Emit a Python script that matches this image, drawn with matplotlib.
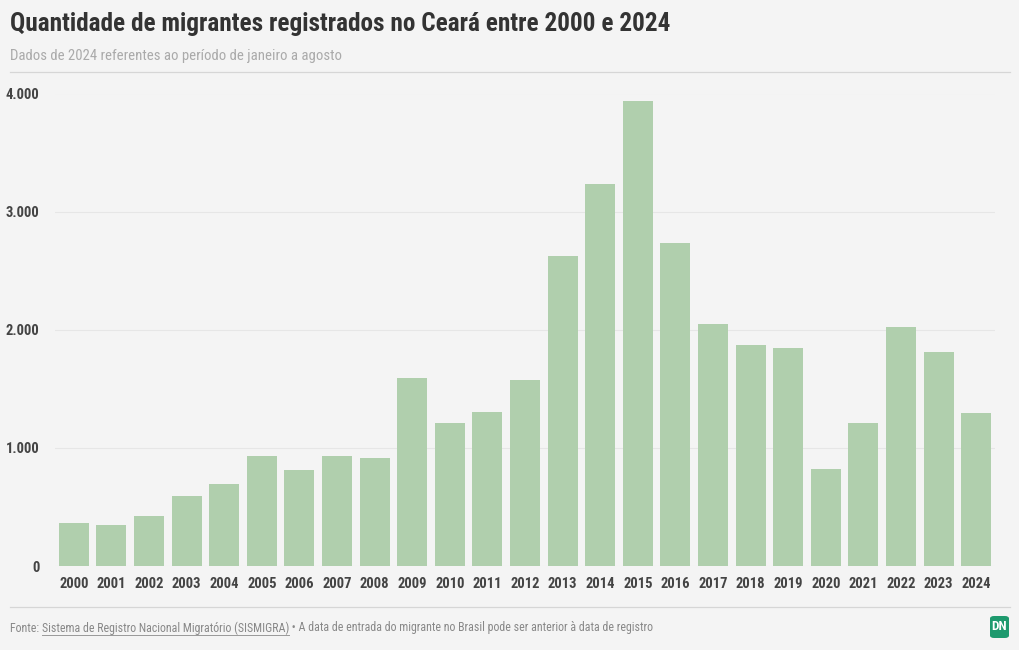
#!/usr/bin/env python3
# Migrantes registrados no Ceará, 2000-2024 (bar chart)

import matplotlib.pyplot as plt
from matplotlib.patches import FancyBboxPatch
from matplotlib.lines import Line2D

# Data
years = [str(y) for y in range(2000, 2025)]
migrants = [364, 345, 421, 590, 698, 932, 811, 932, 918, 1593,
            1212, 1303, 1574, 2623, 3232, 3934, 2735, 2047, 1875, 1847,
            822, 1214, 2020, 1814, 1294]
yticks = [0, 1000, 2000, 3000, 4000]
ytick_labels = ['0', '1.000', '2.000', '3.000', '4.000']

title = 'Quantidade de migrantes registrados no Ceará entre 2000 e 2024'
subtitle = 'Dados de 2024 referentes ao período de janeiro a agosto'
foot_a = 'Fonte: '
foot_b = 'Sistema de Registro Nacional Migratório (SISMIGRA)'
foot_c = ' • A data de entrada do migrante no Brasil pode ser anterior à data de registro'

bg = '#f4f4f4'
bar_color = '#b0cfad'

plt.rcParams['font.family'] = ['Roboto Condensed', 'Liberation Sans Narrow', 'Roboto', 'DejaVu Sans']

fig = plt.figure(figsize=(10.2, 6.5), dpi=100, facecolor=bg)
W, H = 1020, 650

ax = fig.add_axes([55 / W, 1 - 566 / H, 940 / W, (566 - 93.5) / H])
ax.set_facecolor(bg)
ax.bar(range(len(years)), migrants, width=0.8, color=bar_color, zorder=2)
ax.set_xlim(-0.5, len(years) - 0.5)
ax.set_ylim(0, 4000)
ax.set_yticks(yticks)
ax.set_yticklabels(ytick_labels)
ax.set_xticks(range(len(years)))
ax.set_xticklabels(years)
ax.grid(axis='y', color='#e6e6e6', linewidth=0.8, zorder=0)
for s in ax.spines.values():
    s.set_visible(False)
ax.tick_params(length=0, labelsize=10.5, labelcolor='#444444', pad=8)
ax.tick_params(axis='y', pad=11)
for lab in ax.get_xticklabels() + ax.get_yticklabels():
    lab.set_fontweight('bold')

# header
fig.text(10 / W, 1 - 24 / H, title, fontsize=18.2, fontweight='bold',
         color='#333333', va='center', ha='left')
fig.text(10 / W, 1 - 56 / H, subtitle, fontsize=10.6, color='#aaaaaa',
         va='center', ha='left')
fig.add_artist(Line2D([10 / W, 1010 / W], [1 - 72 / H] * 2, color='#d6d6d6', lw=0.9))
fig.add_artist(Line2D([10 / W, 1010 / W], [1 - 607 / H] * 2, color='#d6d6d6', lw=0.9))

# footer, pieces placed one after another
fig.canvas.draw()
r = fig.canvas.get_renderer()
x = 10 / W
fy = 1 - 628 / H
t1 = fig.text(x, fy, foot_a, fontsize=8.6, color='#888888', va='center')
x += t1.get_window_extent(r).width / W
t2 = fig.text(x, fy, foot_b, fontsize=8.6, color='#888888', va='center')
bb = t2.get_window_extent(r)
fig.add_artist(Line2D([x, x + bb.width / W], [fy - 7 / H] * 2, color='#999999', lw=0.7))
x += bb.width / W
fig.text(x, fy, foot_c, fontsize=8.6, color='#888888', va='center')

# DN logo
fig.add_artist(FancyBboxPatch((990 / W, 1 - 638 / H), 19 / W, 22 / H,
                              boxstyle='round,pad=0,rounding_size=0.004',
                              facecolor='#1e9a6e', edgecolor='none',
                              transform=fig.transFigure))
fig.text(999.5 / W, 1 - 627 / H, 'DN', fontsize=9.5, fontweight='bold', color='white',
         ha='center', va='center')

fig.savefig('out.png', dpi=100, facecolor=bg)
